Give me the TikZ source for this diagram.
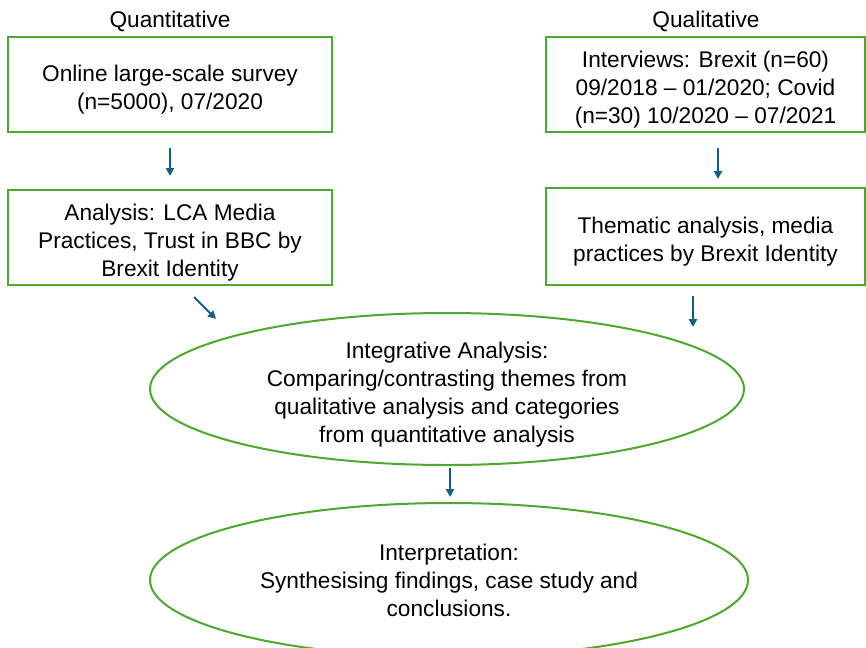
\documentclass[tikz,border=0pt]{standalone}
\usepackage{fontspec}
\setmainfont{Liberation Sans}
\usetikzlibrary{shapes.geometric,arrows.meta}
\definecolor{boxgreen}{HTML}{4EA72E}
\definecolor{arrowblue}{HTML}{156082}
\newcommand{\boxgap}{\rule{0pt}{19.5pt}}

\begin{document}
\begin{tikzpicture}[x=0.75pt,y=-0.75pt,
		every node/.style={font=\fontsize{17}{21}\selectfont},
		stagebox/.style={draw=boxgreen, line width=1.5pt, align=center, inner sep=0pt},
		stageoval/.style={ellipse, draw=boxgreen, line width=1.5pt, align=center, inner sep=0pt},
		flow/.style={draw=arrowblue, line width=1.5pt, -{Triangle[length=6pt,width=6pt]}}]
		\useasboundingbox (0,0) rectangle (866,647);
		% quantitative strand
		\node (quanlabel) at (170,21) {Quantitative};
		\node[stagebox, minimum width=243pt, minimum height=71.25pt] (survey) at (170,84.5) {\boxgap Online large-scale survey\\(n=5000), 07/2020};
		\node[stagebox, minimum width=243pt, minimum height=71.25pt] (lca) at (170,237.5) {\boxgap Analysis: LCA Media\\Practices, Trust in BBC by\\Brexit Identity};
		% qualitative strand
		\node (quallabel) at (706,21) {Qualitative};
		\node[stagebox, minimum width=239.25pt, minimum height=71.25pt] (interviews) at (705.5,84.5) {\boxgap Interviews: Brexit (n=60)\\09/2018 -- 01/2020; Covid\\(n=30) 10/2020 -- 07/2021};
		\node[stagebox, minimum width=239.25pt, minimum height=72.75pt] (thematic) at (705.5,236.5) {\boxgap Thematic analysis, media\\practices by Brexit Identity};
		% mixing
		\node[stageoval, minimum width=445.5pt, minimum height=114pt] (integ) at (447,389) {};
		\node[align=center] (integtext) at ([shift={(0,6)}]integ.center) {Integrative Analysis:\\Comparing/contrasting themes from\\qualitative analysis and categories\\from quantitative analysis};
		\node[stageoval, minimum width=448.5pt, minimum height=115.5pt] (interp) at (449,580) {Interpretation:\\Synthesising findings, case study and\\conclusions.};
		% arrows
		\draw[flow] ([shift={(0,15)}]survey.south) -- ([shift={(0,-13)}]lca.north);
		\draw[flow] ([shift={(24,11)}]lca.south) -- ([shift={(46,33)}]lca.south);
		\draw[flow] ([shift={(12.5,15)}]interviews.south) -- ([shift={(12.5,-8)}]thematic.north);
		\draw[flow] ([shift={(-12.5,10)}]thematic.south) -- ([shift={(-12.5,41)}]thematic.south);
		\draw[flow] ([shift={(3,2)}]integ.south) -- ([shift={(1,-5)}]interp.north);
\end{tikzpicture}
\end{document}
